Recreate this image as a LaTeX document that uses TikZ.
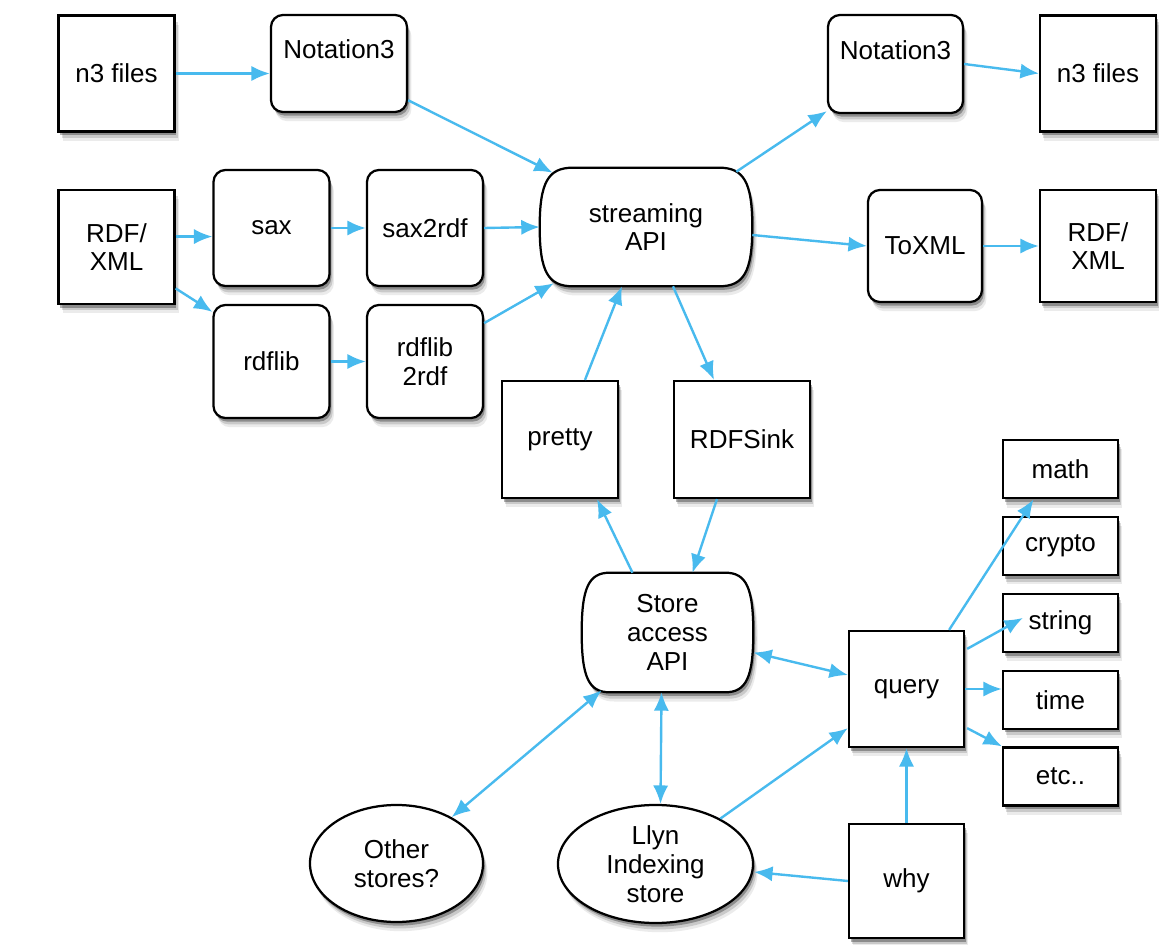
\documentclass[tikz,border=0pt]{standalone}
\usepackage{fontspec}
\setmainfont{Liberation Sans}
\usetikzlibrary{positioning,shapes.geometric,arrows.meta,shadows,backgrounds}
\definecolor{flowBlue}{RGB}{72,186,238}

% outline of a box with bulging left/right sides, drawn round a named node
\newcommand{\pillOutline}[3]{%
  \draw[pillLine] ([xshift=#2]#1.north west) -- ([xshift=-#2]#1.north east)
    .. controls ([xshift=-0.25*#2]#1.north east) and ([yshift=0.75*#3]#1.east) .. (#1.east)
    .. controls ([yshift=-0.75*#3]#1.east) and ([xshift=-0.25*#2]#1.south east) .. ([xshift=-#2]#1.south east)
    -- ([xshift=#2]#1.south west)
    .. controls ([xshift=0.25*#2]#1.south west) and ([yshift=-0.75*#3]#1.west) .. (#1.west)
    .. controls ([yshift=0.75*#3]#1.west) and ([xshift=0.25*#2]#1.north west) .. ([xshift=#2]#1.north west)
    -- cycle;}

\begin{document}
\begin{tikzpicture}[x=0.025cm, y=-0.025cm,
    label/.style={font=\fontsize{18.5}{20.5}\selectfont, text=black, align=center},
    softShadow/.style={drop shadow={shadow xshift=1.1mm, shadow yshift=-2.3mm, opacity=0.08, fill=black},
                       drop shadow={shadow xshift=0.8mm, shadow yshift=-1.6mm, opacity=0.14, fill=black},
                       drop shadow={shadow xshift=0.45mm, shadow yshift=-0.9mm, opacity=0.3, fill=black}},
    base/.style={label, draw=black, line width=1.6pt, fill=white, softShadow},
    box/.style={base, rectangle, minimum width=2.9cm, minimum height=2.9cm},
    rbox/.style={box, rounded corners=0.3cm},
    oval/.style={base, ellipse, inner sep=0pt},
    pill/.style={label, rectangle, draw=none, fill=none},
    pillLine/.style={draw=black, line width=1.6pt, fill=white, softShadow},
    flow/.style={draw=flowBlue, line width=1.7pt, -{Latex[length=0.46cm,width=0.38cm]}},
    bothFlow/.style={flow, {Latex[length=0.46cm,width=0.38cm]}-{Latex[length=0.46cm,width=0.38cm]}}
  ]
  \useasboundingbox (0,0) rectangle (1159,945);

  % parsers on the left
  \node[box] (n3In) at (116.5,73.5) {n3 files};
  \node[rbox, minimum width=3.4cm, minimum height=2.425cm] (n3ParseIn) at (339,63.5) {Notation3\\\mbox{}};
  \node[box, minimum height=2.85cm] (xmlIn) at (116.5,247) {RDF/\\XML};
  \node[rbox] (sax) at (271.5,228) {sax};
  \node[rbox] (saxRdf) at (425,228) {sax2rdf};
  \node[rbox, minimum height=2.825cm] (rdflib) at (271.5,361.5) {rdflib};
  \node[rbox, minimum height=2.825cm] (rdflibRdf) at (425,361.5) {rdflib\\2rdf};

  % streaming API and writers
  \node[pill, minimum width=5.3cm, minimum height=2.95cm] (stream) at (646,227) {streaming\\API};
  \node[rbox, minimum width=3.375cm, minimum height=2.45cm] (n3Out) at (895.5,64) {Notation3\\\mbox{}};
  \node[box] (n3Files) at (1098,73.5) {n3 files};
  \node[rbox, minimum width=2.85cm, minimum height=2.8cm] (toXml) at (925,246) {ToXML};
  \node[box, minimum height=2.8cm] (xmlOut) at (1098,246) {RDF/\\XML};
  \node[box, minimum height=2.925cm] (pretty) at (560,439.5) {pretty};
  \node[box, minimum width=3.4cm, minimum height=2.925cm] (sink) at (742,439.5) {RDFSink};

  % store and query
  \node[pill, minimum width=4.275cm, minimum height=2.975cm] (store) at (667.5,632.5) {Store\\access\\API};
  \node[box, minimum width=2.875cm] (query) at (906.5,689) {query};
  \node[box, minimum width=2.875cm, minimum height=2.85cm] (why) at (906.5,881) {why};
  \foreach \lbl [count=\i] in {math,crypto,string,time,etc..}
    \node[box, minimum width=2.875cm, minimum height=1.45cm] (lib\i) at (1060.5,392.5+76.8*\i) {\lbl};
  \node[oval, minimum width=4.325cm, minimum height=2.925cm] (others) at (396.5,863.5) {Other\\stores?};
  \node[oval, minimum width=4.875cm, minimum height=2.95cm] (llyn) at (655.5,864) {Llyn\\Indexing\\store};

  \begin{scope}[on background layer]
    \fill[white] (0,0) rectangle (1159,945);
    \pillOutline{stream}{0.825cm}{1.475cm}
    \pillOutline{store}{0.7cm}{1.4875cm}
  \end{scope}

  % connectors
  \draw[flow] (n3In.east) -- (n3In.east -| n3ParseIn.west);
  \draw[flow] (n3ParseIn.-28) -- ([shift={(13,5)}]stream.north west);
  \draw[flow] (xmlIn.10) -- (xmlIn.10 -| sax.west);
  \draw[flow] (xmlIn.-35) -- ([shift={(0,8)}]rdflib.north west);
  \draw[flow] (sax.east) -- (saxRdf.west);
  \draw[flow] (saxRdf.east) -- (stream.west);
  \draw[flow] (rdflib.east) -- (rdflibRdf.west);
  \draw[flow] (rdflibRdf.33) -- ([shift={(14,-3)}]stream.south west);
  \draw[flow] ([shift={(-16,4)}]stream.north east) -- ([shift={(0,-3)}]n3Out.south west);
  \draw[flow] (n3Out.east) -- (n3Files.west);
  \draw[flow] ([shift={(0,8)}]stream.east) -- (toXml.west);
  \draw[flow] (toXml.east) -- (xmlOut.west);
  \draw[flow] ([shift={(25,0)}]pretty.north) -- ([shift={(-24,0)}]stream.south);
  \draw[flow] ([shift={(27,0)}]stream.south) -- ([shift={(-28,0)}]sink.north);
  \draw[flow] ([shift={(-35,0)}]store.north) -- ([shift={(37,0)}]pretty.south);
  \draw[flow] ([shift={(-25,0)}]sink.south) -- ([shift={(25,0)}]store.north);
  \draw[bothFlow] ([shift={(0,20)}]store.east) -- ([shift={(0,-14)}]query.west);
  \draw[bothFlow] ([shift={(20,-2)}]store.south west) -- (others.40);
  \draw[bothFlow] ([shift={(-6,0)}]store.south) -- ([shift={(5,0)}]llyn.north);
  \draw[flow] (llyn.35) -- ([shift={(0,-20)}]query.south west);
  \draw[flow] (why.west) -- ([shift={(0,8)}]llyn.east);
  \draw[flow] (why.north) -- (query.south);
  \draw[flow] ([shift={(-16,0)}]query.north east) -- ([shift={(-27,0)}]lib1.south);
  \draw[flow] ([shift={(2,19)}]query.north east) -- ([shift={(21,-5)}]lib3.west);
  \draw[flow] (query.east) -- (query.east -| lib4.west);
  \draw[flow] ([shift={(2,-20)}]query.south east) -- (lib5.north west);
\end{tikzpicture}
\end{document}
